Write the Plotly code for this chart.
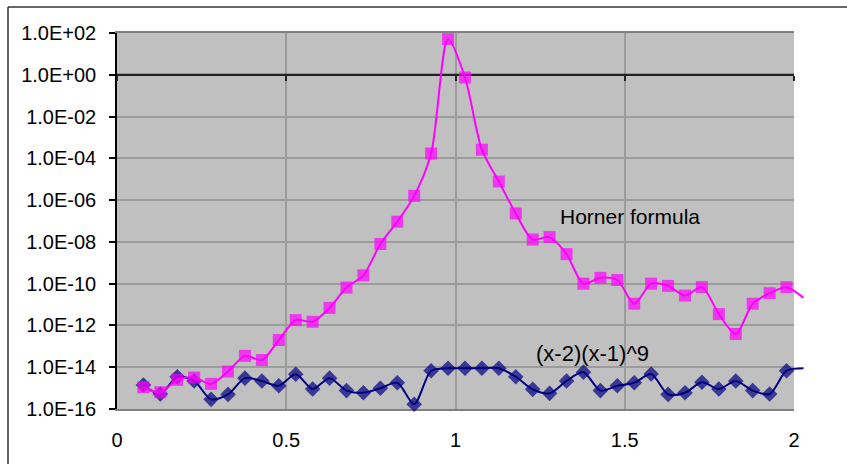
import plotly.graph_objects as go

# ---- data ----
x_vals = [0.078, 0.128, 0.178, 0.228, 0.278, 0.328, 0.378, 0.428, 0.478, 0.528,
          0.578, 0.628, 0.678, 0.728, 0.778, 0.828, 0.878, 0.928, 0.978, 1.028,
          1.078, 1.128, 1.178, 1.228, 1.278, 1.328, 1.378, 1.428, 1.478, 1.528,
          1.578, 1.628, 1.678, 1.728, 1.778, 1.828, 1.878, 1.928, 1.978, 2.028]

horner = [1.1e-15, 6.3e-16, 2.5e-15, 3.2e-15, 1.6e-15, 6.2e-15, 3.5e-14, 2.2e-14, 2.0e-13, 1.8e-12,
          1.5e-12, 6.9e-12, 6.5e-11, 2.5e-10, 7.9e-9, 9.3e-8, 1.6e-6, 1.7e-4, 51.0, 0.74,
          2.6e-4, 7.8e-6, 2.3e-7, 1.3e-8, 1.7e-8, 2.6e-9, 1.0e-10, 1.9e-10, 1.5e-10, 1.1e-11,
          1.0e-10, 7.8e-11, 2.7e-11, 6.8e-11, 3.5e-12, 3.9e-13, 1.1e-11, 3.5e-11, 6.8e-11, 2.1e-11]

factored = [1.4e-15, 5.2e-16, 3.5e-15, 2.2e-15, 2.9e-16, 5.0e-16, 3.0e-15, 2.2e-15, 1.3e-15, 4.6e-15,
            9.1e-16, 3.0e-15, 7.6e-16, 6.0e-16, 9.8e-16, 1.8e-15, 1.7e-16, 6.8e-15, 8.9e-15, 8.9e-15,
            8.9e-15, 8.9e-15, 3.5e-15, 8.7e-16, 5.6e-16, 2.2e-15, 5.8e-15, 7.6e-16, 1.3e-15, 1.8e-15,
            4.7e-15, 5.0e-16, 6.0e-16, 1.9e-15, 9.1e-16, 2.2e-15, 7.6e-16, 5.2e-16, 6.8e-15, 8.9e-15]

y_tickvals = [1e2, 1e0, 1e-2, 1e-4, 1e-6, 1e-8, 1e-10, 1e-12, 1e-14, 1e-16]
y_ticktext = ["1.0E+02", "1.0E+00", "1.0E-02", "1.0E-04", "1.0E-06",
              "1.0E-08", "1.0E-10", "1.0E-12", "1.0E-14", "1.0E-16"]
Y_CROSS = 1e0                      # category axis crosses the value axis here
LOG_CROSS = 0
x_tickvals = [0, 0.5, 1, 1.5, 2]
x_ticktext = ["0", "0.5", "1", "1.5", "2"]
X_MIN, X_MAX = 0, 2
LOG_MIN, LOG_MAX = -16, 2

label_horner = "Horner formula"
label_factored = "(x-2)(x-1)^9"

FONT = "Liberation Sans, Arial, sans-serif"
W, H = 847, 464
ML, MR, MT, MB = 117, 30, 33, 55
PLOT_W = W - ML - MR
PLOT_H = H - MT - MB
X_DOM = (794 - ML) / PLOT_W            # visible axes end at the plot-area border
X2_MAX = X_MAX / X_DOM                 # hidden axis keeps the same scale, wider clip
CROSS_POS = (LOG_CROSS - LOG_MIN) / (LOG_MAX - LOG_MIN)

n_visible = len(x_vals) - 1
sq_sizes = [12] * n_visible + [0]
dm_sizes = [12] * n_visible + [0]

fig = go.Figure()
# crossing category-axis line at 1.0E+00 (drawn on the visible subplot, above its grid)
fig.add_trace(go.Scatter(
    x=[X_MIN, X_MAX], y=[Y_CROSS, Y_CROSS], mode="lines", xaxis="x", yaxis="y",
    line=dict(color="#222222", width=2), hoverinfo="skip", showlegend=False))
# empty trace so the free-positioned tick axis is rendered
fig.add_trace(go.Scatter(x=[], y=[], xaxis="x3", yaxis="y", mode="markers",
                         hoverinfo="skip", showlegend=False))
fig.add_trace(go.Scatter(
    x=x_vals, y=factored, mode="lines+markers", xaxis="x2", yaxis="y2",
    line=dict(color="#000080", width=2, shape="spline", smoothing=0.8),
    marker=dict(symbol="diamond", size=dm_sizes, color="#000080", line=dict(width=0)),
    cliponaxis=False, showlegend=False))
fig.add_trace(go.Scatter(
    x=x_vals, y=horner, mode="lines+markers", xaxis="x2", yaxis="y2",
    line=dict(color="#FF00FF", width=2, shape="spline", smoothing=0.8),
    marker=dict(symbol="square", size=sq_sizes, color="#FF00FF", line=dict(width=0)),
    cliponaxis=False, showlegend=False))

grid_col = "#9C9C9C"
fig.update_layout(
    width=W, height=H,
    margin=dict(l=ML, r=MR, t=MT, b=MB, autoexpand=False),
    paper_bgcolor="white", plot_bgcolor="rgba(0,0,0,0)",
    font=dict(family=FONT, size=20, color="black"),
    xaxis=dict(domain=[0, X_DOM], range=[X_MIN, X_MAX], anchor="y",
               tickvals=x_tickvals, ticktext=x_ticktext,
               showgrid=True, gridcolor=grid_col, gridwidth=1.5,
               zeroline=False, showline=True, linecolor="#808080", linewidth=2,
               mirror=True, ticks="", automargin=False,
               ticklabelstandoff=12, tickfont=dict(size=20)),
    xaxis3=dict(overlaying="x", anchor="free", position=CROSS_POS, side="bottom",
                range=[X_MIN, X_MAX], tickvals=x_tickvals, showticklabels=False,
                ticks="outside", ticklen=5, tickwidth=1.5, tickcolor="#222222",
                showgrid=False, zeroline=False, showline=True,
                linecolor="#222222", linewidth=2, automargin=False),
    yaxis=dict(type="log", range=[LOG_MIN, LOG_MAX], anchor="x", domain=[0, 1],
               tickvals=y_tickvals, ticktext=y_ticktext,
               showgrid=True, gridcolor=grid_col, gridwidth=1.5,
               zeroline=False, showline=True, linecolor="black", linewidth=1.5,
               ticks="outside", ticklen=6, tickcolor="black", tickwidth=1.5,
               automargin=False, ticklabelstandoff=9, tickfont=dict(size=20)),
    xaxis2=dict(domain=[0, 1], range=[X_MIN, X2_MAX], anchor="y2",
                visible=False, showgrid=False, zeroline=False),
    yaxis2=dict(type="log", range=[LOG_MIN, LOG_MAX], anchor="x2", domain=[0, 1],
                visible=False, showgrid=False, zeroline=False),
)

shapes = []
# gray plot-area background (under the grid)
shapes.append(dict(type="rect", xref="x domain", yref="y domain", x0=0, x1=1, y0=0, y1=1,
                   fillcolor="#C0C0C0", line=dict(width=0), layer="below"))
# outer chart frame (partially visible)
fy_top = (H - MB - 7) / PLOT_H
fx_left = (8 - ML) / PLOT_W
shapes.append(dict(type="line", xref="paper", yref="paper",
                   x0=fx_left, x1=(W + 10 - ML) / PLOT_W, y0=fy_top, y1=fy_top,
                   line=dict(color="#333333", width=1.5)))
shapes.append(dict(type="line", xref="paper", yref="paper",
                   x0=fx_left, x1=fx_left, y0=fy_top, y1=-(MB + 20) / PLOT_H,
                   line=dict(color="#333333", width=1.5)))
fig.update_layout(shapes=shapes)

fig.add_annotation(x=1.303, y=-6.80, xref="x", yref="y", text=label_horner,
                   showarrow=False, xanchor="left", yanchor="middle",
                   font=dict(family=FONT, size=21, color="black"))
fig.add_annotation(x=1.232, y=-13.32, xref="x", yref="y", text=label_factored,
                   showarrow=False, xanchor="left", yanchor="middle",
                   font=dict(family=FONT, size=22, color="black"))

fig.write_html("out.html")
